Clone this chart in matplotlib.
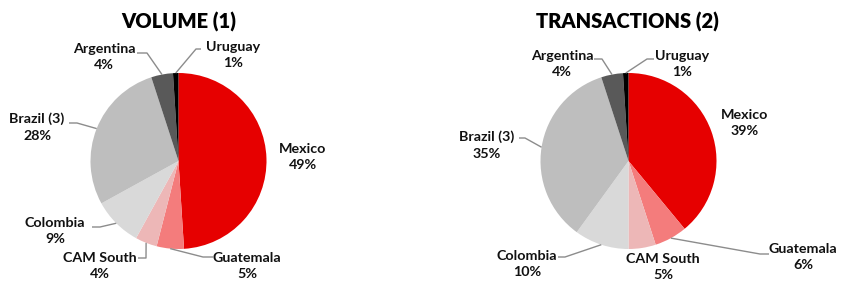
import numpy as np
import matplotlib
matplotlib.use("Agg")
import matplotlib.pyplot as plt

plt.rcParams['font.family'] = ['Lato', 'DejaVu Sans']

countries = ["Mexico", "Guatemala", "CAM South", "Colombia", "Brazil (3)", "Argentina", "Uruguay"]
volume = [49, 5, 4, 9, 28, 4, 1]
transactions = [39, 6, 5, 10, 35, 4, 1]
titles = ["VOLUME (1)", "TRANSACTIONS (2)"]
colors = ["#E60000", "#F47C7C", "#EDB7B7", "#D9D9D9", "#BEBEBE", "#595959", "#000000"]

# layout in pixel coords (y measured from top of picture)
centers = [(178.5, 161), (628.5, 161)]
radius = 88
title_pos = [(179, 22), (627, 22)]

# label centre positions per pie
label_pos = [
    [(303, 157), (247, 266), (100, 266), (55, 231), (37, 127), (104, 57), (233, 55)],
    [(745, 123), (803, 257), (663, 267), (527, 264), (487, 145), (562, 64), (682, 64)],
]
# leader: (start x, start y, elbow x) or None
leaders = [
    [None, (213, 257, 203), (138, 258, 146), (92, 227, 100), (69, 123, 77), (137, 53, 147), (201, 49, 196)],
    [None, (769, 254, 760), None, (558, 257, 565), (519, 138, 525), (594, 59, 602), (654, 59, 647)],
]

H = 285
fig = plt.figure(figsize=(8.5, 2.85), dpi=100)
ax = fig.add_axes([0, 0, 1, 1])
ax.set_xlim(0, 850)
ax.set_ylim(0, H)
ax.set_aspect('equal')
ax.axis('off')

for k, vals in enumerate([volume, transactions]):
    cx, cy = centers[k]
    wedges, _ = ax.pie(vals, colors=colors, startangle=90, counterclock=False,
                       center=(cx, H - cy), radius=radius, frame=True,
                       wedgeprops=dict(linewidth=0))
    ax.text(title_pos[k][0], H - title_pos[k][1], titles[k], ha='center', va='center',
            fontsize=14.5, fontweight='heavy')
    for i, w in enumerate(wedges):
        tx, ty = label_pos[k][i]
        ax.text(tx, H - ty, f"{countries[i]}\n{vals[i]}%", ha='center', va='center',
                fontsize=10.3, fontweight='bold', linespacing=1.45, color='#111111')
        ld = leaders[k][i]
        if ld is not None:
            mid = np.deg2rad((w.theta1 + w.theta2) / 2)
            axp = cx + radius * np.cos(mid)
            ayp = (H - cy) + radius * np.sin(mid)
            sx, sy, ex = ld
            ax.plot([sx, ex, axp], [H - sy, H - sy, ayp], color='#8c8c8c', lw=1.0,
                    solid_capstyle='butt')

ax.set_xlim(0, 850)
ax.set_ylim(0, H)
fig.savefig("out.png", dpi=100, facecolor='white')
